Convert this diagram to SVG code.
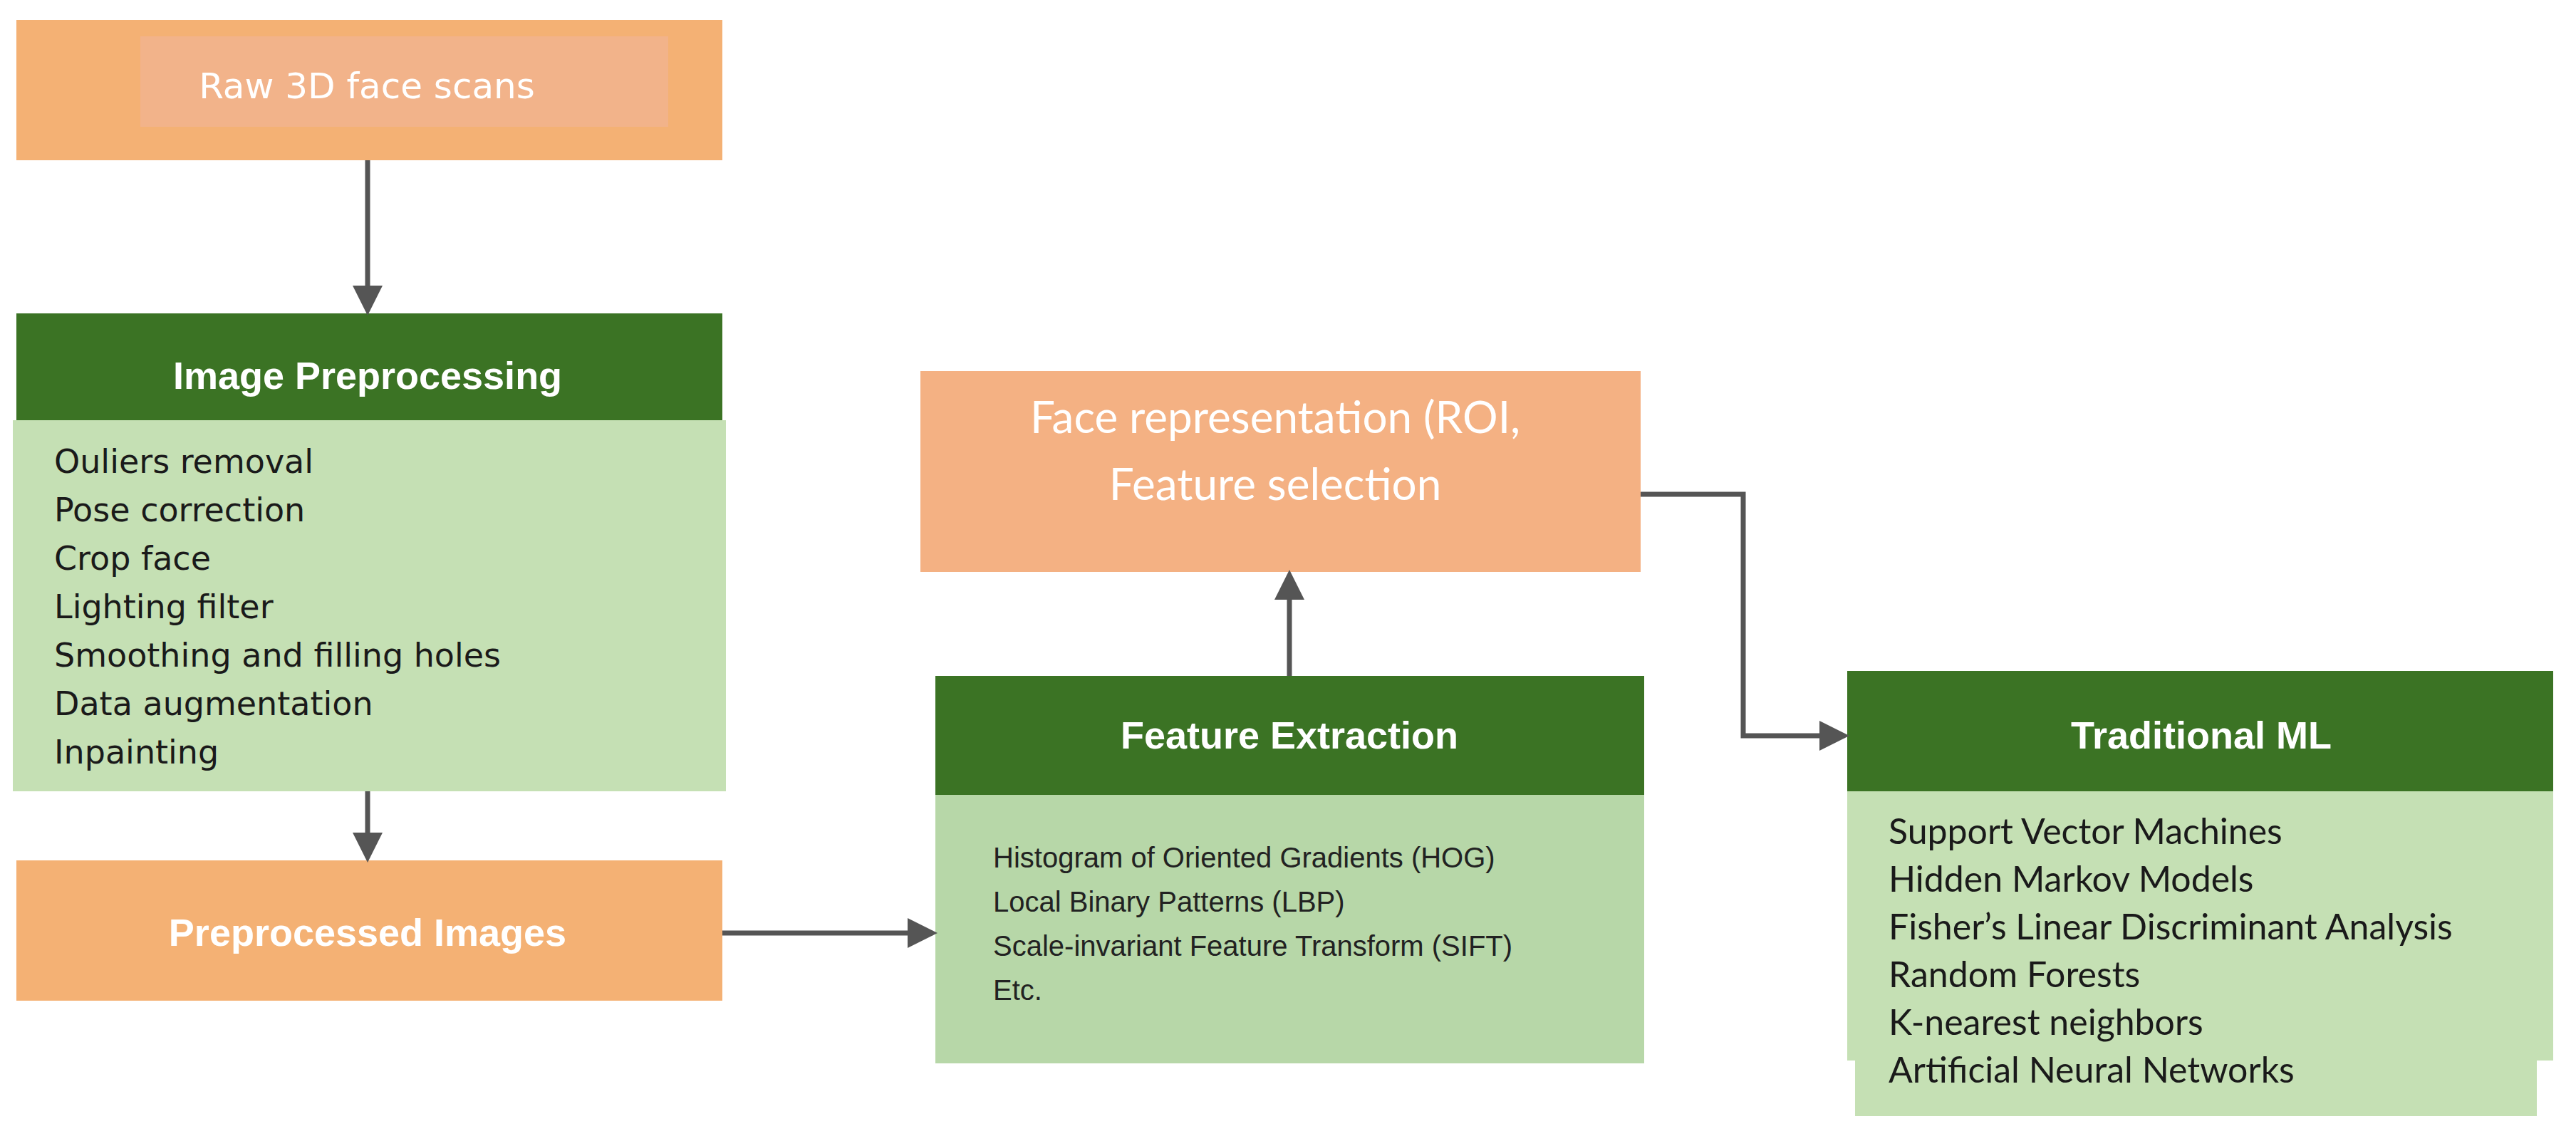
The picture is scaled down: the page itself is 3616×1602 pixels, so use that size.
<svg xmlns="http://www.w3.org/2000/svg" width="3616" height="1602" viewBox="0 0 3616 1602">
<style>
.or{fill:#F4B174}
.hd{fill:#3B7324}
.lg{fill:#C5E0B4}
.t{fill:#fff;font-family:"Liberation Sans",Arial,sans-serif;font-weight:bold;text-anchor:middle}
.c{stroke:#555;stroke-width:7;fill:none}
.it{font-family:"DejaVu Sans",sans-serif;font-size:46px;fill:#1a1a1a}
.fe{font-family:"Liberation Sans",Arial,sans-serif;font-size:40px;fill:#222}
.ml{font-family:Lato,"Open Sans",sans-serif;font-size:50px;fill:#1a1a1a}
</style>
<defs><marker id="a" markerWidth="6" markerHeight="6" refX="5" refY="3" orient="auto" markerUnits="strokeWidth"><path d="M0,0L6,3L0,6z" fill="#555"/></marker></defs>
<rect width="3616" height="1602" fill="#fff"/>
<g id="raw"><rect class="or" x="23" y="28" width="991" height="197"/><rect x="197" y="51" width="741" height="127" fill="#F2B38A"/><text x="515" y="138" font-family="DejaVu Sans,sans-serif" font-size="50" fill="#fff" text-anchor="middle">Raw 3D face scans</text></g>
<g id="prep"><rect class="hd" x="23" y="440" width="991" height="150"/><text class="t" x="516" y="546" font-size="54">Image Preprocessing</text>
<rect class="lg" x="18" y="590" width="1001" height="521"/>
<text class="it" x="76"><tspan x="76" y="664">Ouliers removal</tspan><tspan x="76" y="732">Pose correction</tspan><tspan x="76" y="800">Crop face</tspan><tspan x="76" y="868">Lighting filter</tspan><tspan x="76" y="936">Smoothing and filling holes</tspan><tspan x="76" y="1004">Data augmentation</tspan><tspan x="76" y="1072">Inpainting</tspan></text></g>
<g id="pimg"><rect class="or" x="23" y="1208" width="991" height="197"/><text class="t" x="516" y="1328" font-size="54">Preprocessed Images</text></g>
<g id="face"><rect x="1292" y="521" width="1011" height="282" fill="#F4B183"/><text font-family="Lato,sans-serif" font-size="62" fill="#fff" text-anchor="middle"><tspan x="1790" y="608">Face representation (ROI,</tspan><tspan x="1790" y="702">Feature selection</tspan></text></g>
<g id="fext"><rect class="hd" x="1313" y="949" width="995" height="167"/><text class="t" x="1810" y="1051" font-size="54">Feature Extraction</text>
<rect x="1313" y="1116" width="995" height="377" fill="#B7D7A8"/>
<text class="fe"><tspan x="1394" y="1218">Histogram of Oriented Gradients (HOG)</tspan><tspan x="1394" y="1280">Local Binary Patterns (LBP)</tspan><tspan x="1394" y="1342">Scale-invariant Feature Transform (SIFT)</tspan><tspan x="1394" y="1404">Etc.</tspan></text></g>
<g id="ml"><rect class="lg" x="2604" y="1111" width="957" height="456"/><rect class="hd" x="2593" y="942" width="991" height="169"/><rect class="lg" x="2593" y="1111" width="991" height="378"/><text class="t" x="3090" y="1051" font-size="54">Traditional ML</text>
<text class="ml"><tspan x="2651" y="1185">Support Vector Machines</tspan><tspan x="2651" y="1252">Hidden Markov Models</tspan><tspan x="2651" y="1319">Fisher’s Linear Discriminant Analysis</tspan><tspan x="2651" y="1386">Random Forests</tspan><tspan x="2651" y="1453">K-nearest neighbors</tspan><tspan x="2651" y="1520">Artificial Neural Networks</tspan></text></g>
<g id="connectors">
<path class="c" d="M516,225V436" marker-end="url(#a)"/>
<path class="c" d="M516,1111V1204" marker-end="url(#a)"/>
<path class="c" d="M1014,1310H1309" marker-end="url(#a)"/>
<path class="c" d="M1810,949V807" marker-end="url(#a)"/>
<path class="c" d="M2303,694H2447V1033H2589" marker-end="url(#a)"/>
</g>
</svg>
